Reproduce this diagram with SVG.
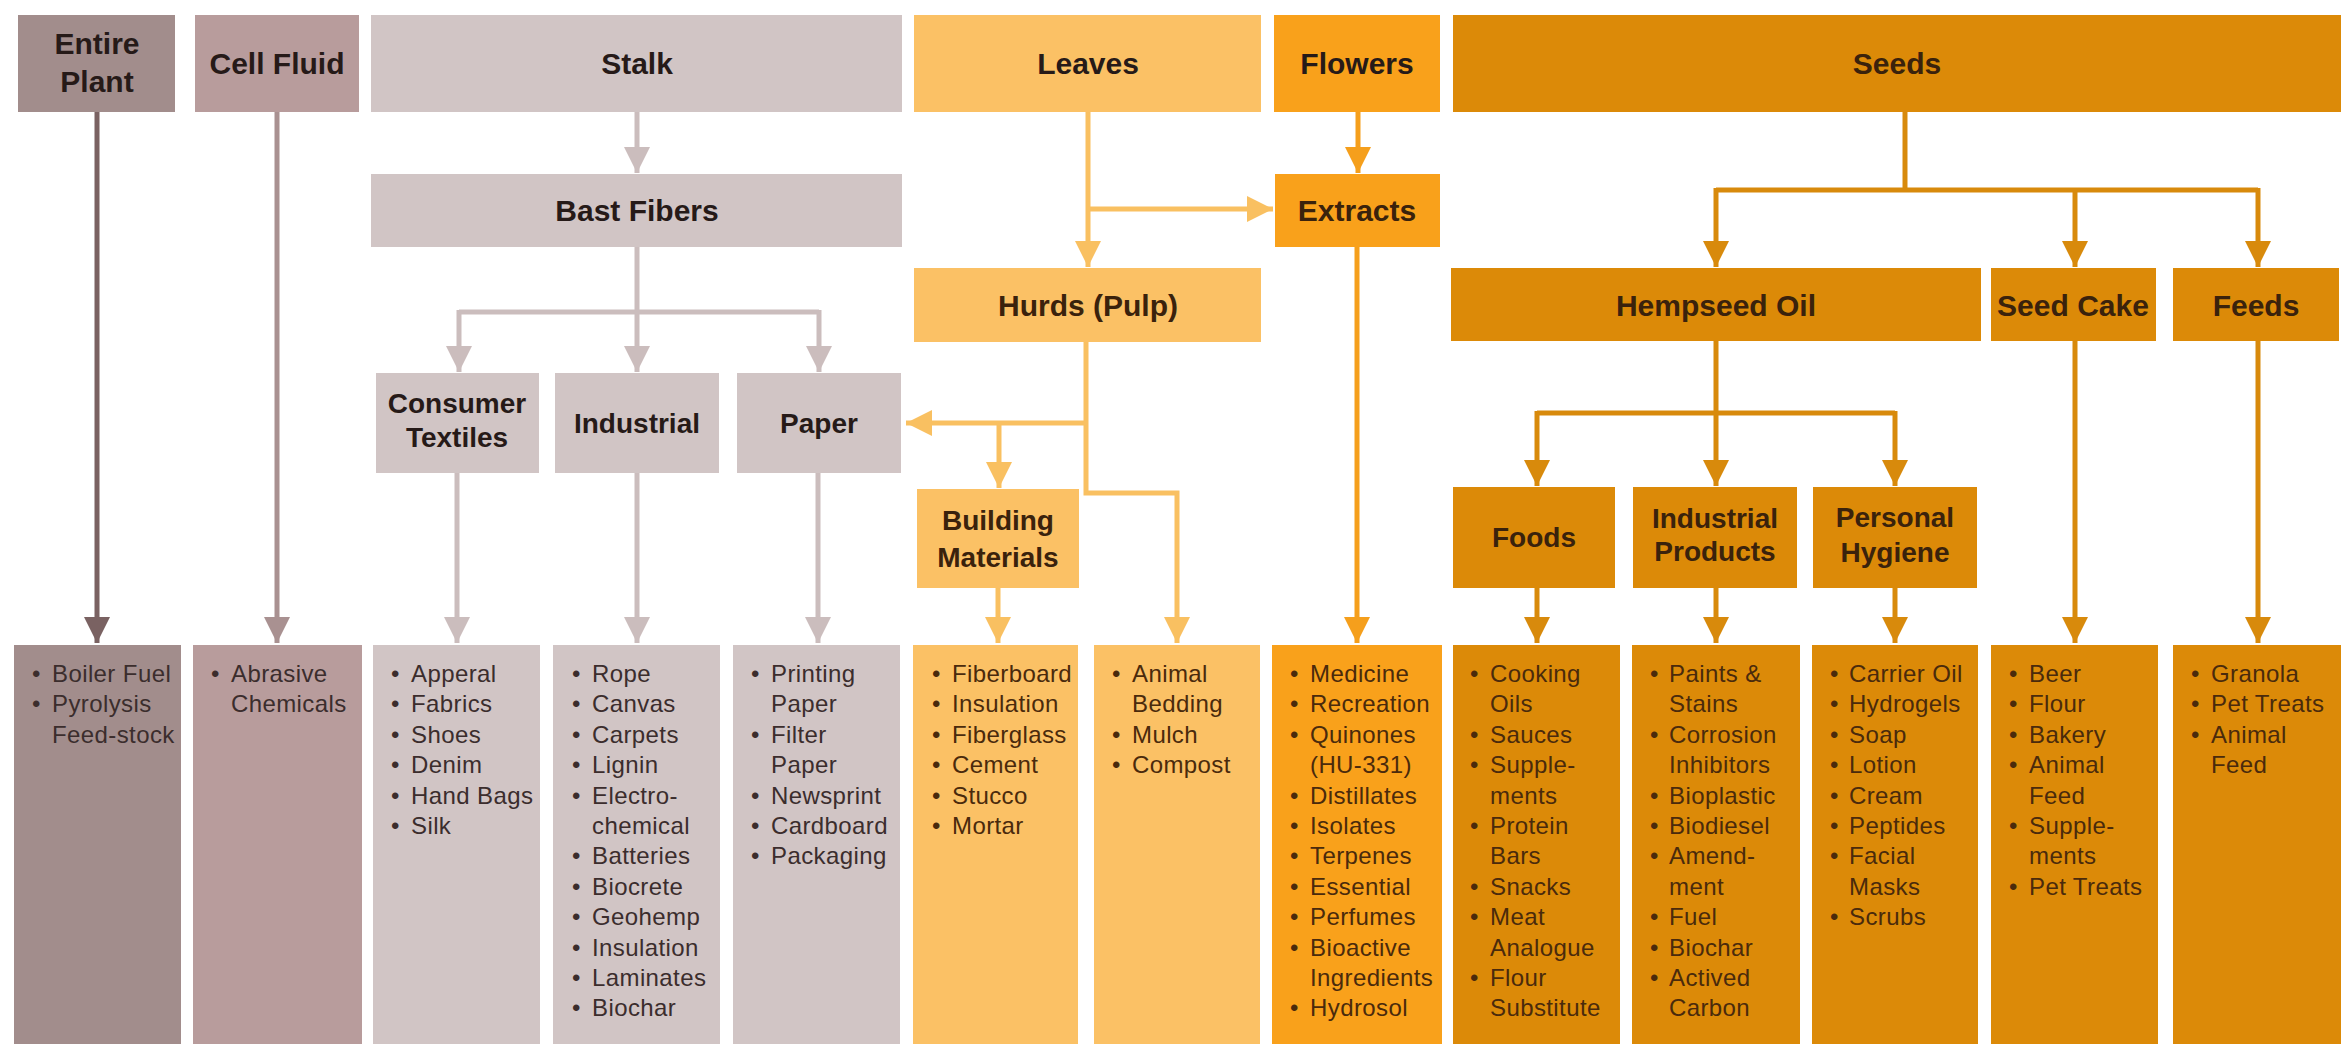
<svg xmlns="http://www.w3.org/2000/svg" width="2341" height="1044" viewBox="0 0 2341 1044">
<defs>
<style>
.h{font-family:"Liberation Sans",Arial,sans-serif;font-weight:bold;font-size:30px;text-anchor:middle;fill:#261a18}
.h2{font-family:"Liberation Sans",Arial,sans-serif;font-weight:bold;font-size:28px;text-anchor:middle;fill:#261a18}
.ho{fill:#3a220c}
.t{font-family:"Liberation Sans",Arial,sans-serif;font-size:24px;letter-spacing:0.4px;fill:#3b2d2d}
.to{fill:#4a2a0c}
.ep{fill:#a28d8c}.cf{fill:#b89c9c}.st{fill:#d1c5c5}.lv{fill:#fbc165}.fl{fill:#f9a11b}.sd{fill:#dc8a08}
.c{fill:none;stroke-width:5}
.cep{stroke:#7a6262}.ccf{stroke:#a99191}.cst{stroke:#cbbdbd}.clv{stroke:#f9c061}.cfl{stroke:#f59f1c}.csd{stroke:#d88a0c}
</style>
<marker id="aep" markerUnits="userSpaceOnUse" markerWidth="28" markerHeight="28" refX="26" refY="13" orient="auto"><path d="M0,0 L26,13 L0,26 Z" fill="#7a6262"/></marker>
<marker id="acf" markerUnits="userSpaceOnUse" markerWidth="28" markerHeight="28" refX="26" refY="13" orient="auto"><path d="M0,0 L26,13 L0,26 Z" fill="#a99191"/></marker>
<marker id="ast" markerUnits="userSpaceOnUse" markerWidth="28" markerHeight="28" refX="26" refY="13" orient="auto"><path d="M0,0 L26,13 L0,26 Z" fill="#cbbdbd"/></marker>
<marker id="alv" markerUnits="userSpaceOnUse" markerWidth="28" markerHeight="28" refX="26" refY="13" orient="auto"><path d="M0,0 L26,13 L0,26 Z" fill="#f9c061"/></marker>
<marker id="afl" markerUnits="userSpaceOnUse" markerWidth="28" markerHeight="28" refX="26" refY="13" orient="auto"><path d="M0,0 L26,13 L0,26 Z" fill="#f59f1c"/></marker>
<marker id="asd" markerUnits="userSpaceOnUse" markerWidth="28" markerHeight="28" refX="26" refY="13" orient="auto"><path d="M0,0 L26,13 L0,26 Z" fill="#d88a0c"/></marker>
</defs>
<rect width="2341" height="1044" fill="#ffffff"/>

<g id="connectors">
<path class="c cep" d="M97,112 V643" marker-end="url(#aep)"/>
<path class="c ccf" d="M277,112 V643" marker-end="url(#acf)"/>
<path class="c cst" d="M637,112 V173" marker-end="url(#ast)"/>
<path class="c cst" d="M637,247 V372" marker-end="url(#ast)"/>
<path class="c cst" d="M459,312 H819"/>
<path class="c cst" d="M459,310 V372" marker-end="url(#ast)"/>
<path class="c cst" d="M819,310 V372" marker-end="url(#ast)"/>
<path class="c cst" d="M457,473 V643" marker-end="url(#ast)"/>
<path class="c cst" d="M637,473 V643" marker-end="url(#ast)"/>
<path class="c cst" d="M818,473 V643" marker-end="url(#ast)"/>
<path class="c clv" d="M1088,112 V267" marker-end="url(#alv)"/>
<path class="c clv" d="M1088,209 H1273" marker-end="url(#alv)"/>
<path class="c clv" d="M1086,342 V493 H1177 V643" marker-end="url(#alv)"/>
<path class="c clv" d="M1086,423 H906" marker-end="url(#alv)"/>
<path class="c clv" d="M999,423 V488" marker-end="url(#alv)"/>
<path class="c clv" d="M998,588 V643" marker-end="url(#alv)"/>
<path class="c cfl" d="M1358,112 V173" marker-end="url(#afl)"/>
<path class="c cfl" d="M1357,247 V643" marker-end="url(#afl)"/>
<path class="c csd" d="M1905,112 V190"/>
<path class="c csd" d="M1716,190 H2258"/>
<path class="c csd" d="M1716,188 V267" marker-end="url(#asd)"/>
<path class="c csd" d="M2075,188 V267" marker-end="url(#asd)"/>
<path class="c csd" d="M2258,188 V267" marker-end="url(#asd)"/>
<path class="c csd" d="M1716,341 V486" marker-end="url(#asd)"/>
<path class="c csd" d="M1537,413 H1895"/>
<path class="c csd" d="M1537,411 V486" marker-end="url(#asd)"/>
<path class="c csd" d="M1895,411 V486" marker-end="url(#asd)"/>
<path class="c csd" d="M1537,588 V643" marker-end="url(#asd)"/>
<path class="c csd" d="M1716,588 V643" marker-end="url(#asd)"/>
<path class="c csd" d="M1895,588 V643" marker-end="url(#asd)"/>
<path class="c csd" d="M2075,341 V643" marker-end="url(#asd)"/>
<path class="c csd" d="M2258,341 V643" marker-end="url(#asd)"/>
</g>

<g id="entire-plant"><rect class="ep" x="18" y="15" width="157" height="97"/><text class="h" x="97" y="54">Entire</text><text class="h" x="97" y="92">Plant</text></g>
<g id="cell-fluid"><rect class="cf" x="195" y="15" width="164" height="97"/><text class="h" x="277" y="74">Cell Fluid</text></g>
<g id="stalk"><rect class="st" x="371" y="15" width="531" height="97"/><text class="h" x="637" y="74" font-weight="normal">Stalk</text></g>
<g id="leaves"><rect class="lv" x="914" y="15" width="347" height="97"/><text class="h" x="1088" y="74" font-weight="normal">Leaves</text></g>
<g id="flowers"><rect class="fl" x="1274" y="15" width="166" height="97"/><text class="h" x="1357" y="74">Flowers</text></g>
<g id="seeds"><rect class="sd" x="1453" y="15" width="888" height="97"/><text class="h ho" x="1897" y="74">Seeds</text></g>

<g id="bast-fibers"><rect class="st" x="371" y="174" width="531" height="73"/><text class="h" x="637" y="221">Bast Fibers</text></g>
<g id="extracts"><rect class="fl" x="1275" y="174" width="165" height="73"/><text class="h ho" x="1357" y="221">Extracts</text></g>
<g id="hurds"><rect class="lv" x="914" y="268" width="347" height="74"/><text class="h ho" x="1088" y="316">Hurds (Pulp)</text></g>
<g id="hempseed-oil"><rect class="sd" x="1451" y="268" width="530" height="73"/><text class="h ho" x="1716" y="316">Hempseed Oil</text></g>
<g id="seed-cake"><rect class="sd" x="1991" y="268" width="165" height="73"/><text class="h ho" x="2073" y="316">Seed Cake</text></g>
<g id="feeds"><rect class="sd" x="2173" y="268" width="166" height="73"/><text class="h ho" x="2256" y="316">Feeds</text></g>

<g id="consumer-textiles"><rect class="st" x="376" y="373" width="163" height="100"/><text class="h2" x="457" y="413">Consumer</text><text class="h2" x="457" y="447">Textiles</text></g>
<g id="industrial"><rect class="st" x="555" y="373" width="164" height="100"/><text class="h2" x="637" y="433">Industrial</text></g>
<g id="paper"><rect class="st" x="737" y="373" width="164" height="100"/><text class="h2" x="819" y="433">Paper</text></g>
<g id="building-materials"><rect class="lv" x="917" y="489" width="162" height="99"/><text class="h2 ho" x="998" y="530">Building</text><text class="h2 ho" x="998" y="567">Materials</text></g>
<g id="foods"><rect class="sd" x="1453" y="487" width="162" height="101"/><text class="h2 ho" x="1534" y="547">Foods</text></g>
<g id="industrial-products"><rect class="sd" x="1633" y="487" width="164" height="101"/><text class="h2 ho" x="1715" y="528">Industrial</text><text class="h2 ho" x="1715" y="561">Products</text></g>
<g id="personal-hygiene"><rect class="sd" x="1813" y="487" width="164" height="101"/><text class="h2 ho" x="1895" y="527">Personal</text><text class="h2 ho" x="1895" y="562">Hygiene</text></g>

<g id="list-entire-plant"><rect class="ep" x="14" y="645" width="167" height="399"/>
<text class="t"><tspan x="32" y="682">•</tspan><tspan x="52" y="682">Boiler Fuel</tspan><tspan x="32" y="712">•</tspan><tspan x="52" y="712">Pyrolysis</tspan><tspan x="52" y="743">Feed-stock</tspan></text></g>
<g id="list-cell-fluid"><rect class="cf" x="193" y="645" width="169" height="399"/>
<text class="t"><tspan x="211" y="682">•</tspan><tspan x="231" y="682">Abrasive</tspan><tspan x="231" y="712">Chemicals</tspan></text></g>
<g id="list-textiles"><rect class="st" x="373" y="645" width="167" height="399"/>
<text class="t"><tspan x="391" y="682">•</tspan><tspan x="411" y="682">Apperal</tspan><tspan x="391" y="712">•</tspan><tspan x="411" y="712">Fabrics</tspan><tspan x="391" y="743">•</tspan><tspan x="411" y="743">Shoes</tspan><tspan x="391" y="773">•</tspan><tspan x="411" y="773">Denim</tspan><tspan x="391" y="804">•</tspan><tspan x="411" y="804">Hand Bags</tspan><tspan x="391" y="834">•</tspan><tspan x="411" y="834">Silk</tspan></text></g>
<g id="list-industrial"><rect class="st" x="553" y="645" width="167" height="399"/>
<text class="t"><tspan x="572" y="682">•</tspan><tspan x="592" y="682">Rope</tspan><tspan x="572" y="712">•</tspan><tspan x="592" y="712">Canvas</tspan><tspan x="572" y="743">•</tspan><tspan x="592" y="743">Carpets</tspan><tspan x="572" y="773">•</tspan><tspan x="592" y="773">Lignin</tspan><tspan x="572" y="804">•</tspan><tspan x="592" y="804">Electro-</tspan><tspan x="592" y="834">chemical</tspan><tspan x="572" y="864">•</tspan><tspan x="592" y="864">Batteries</tspan><tspan x="572" y="895">•</tspan><tspan x="592" y="895">Biocrete</tspan><tspan x="572" y="925">•</tspan><tspan x="592" y="925">Geohemp</tspan><tspan x="572" y="956">•</tspan><tspan x="592" y="956">Insulation</tspan><tspan x="572" y="986">•</tspan><tspan x="592" y="986">Laminates</tspan><tspan x="572" y="1016">•</tspan><tspan x="592" y="1016">Biochar</tspan></text></g>
<g id="list-paper"><rect class="st" x="733" y="645" width="167" height="399"/>
<text class="t"><tspan x="751" y="682">•</tspan><tspan x="771" y="682">Printing</tspan><tspan x="771" y="712">Paper</tspan><tspan x="751" y="743">•</tspan><tspan x="771" y="743">Filter</tspan><tspan x="771" y="773">Paper</tspan><tspan x="751" y="804">•</tspan><tspan x="771" y="804">Newsprint</tspan><tspan x="751" y="834">•</tspan><tspan x="771" y="834">Cardboard</tspan><tspan x="751" y="864">•</tspan><tspan x="771" y="864">Packaging</tspan></text></g>
<g id="list-building"><rect class="lv" x="913" y="645" width="165" height="399"/>
<text class="t to"><tspan x="932" y="682">•</tspan><tspan x="952" y="682">Fiberboard</tspan><tspan x="932" y="712">•</tspan><tspan x="952" y="712">Insulation</tspan><tspan x="932" y="743">•</tspan><tspan x="952" y="743">Fiberglass</tspan><tspan x="932" y="773">•</tspan><tspan x="952" y="773">Cement</tspan><tspan x="932" y="804">•</tspan><tspan x="952" y="804">Stucco</tspan><tspan x="932" y="834">•</tspan><tspan x="952" y="834">Mortar</tspan></text></g>
<g id="list-hurds"><rect class="lv" x="1094" y="645" width="166" height="399"/>
<text class="t to"><tspan x="1112" y="682">•</tspan><tspan x="1132" y="682">Animal</tspan><tspan x="1132" y="712">Bedding</tspan><tspan x="1112" y="743">•</tspan><tspan x="1132" y="743">Mulch</tspan><tspan x="1112" y="773">•</tspan><tspan x="1132" y="773">Compost</tspan></text></g>
<g id="list-extracts"><rect class="fl" x="1272" y="645" width="170" height="399"/>
<text class="t to"><tspan x="1290" y="682">•</tspan><tspan x="1310" y="682">Medicine</tspan><tspan x="1290" y="712">•</tspan><tspan x="1310" y="712">Recreation</tspan><tspan x="1290" y="743">•</tspan><tspan x="1310" y="743">Quinones</tspan><tspan x="1310" y="773">(HU-331)</tspan><tspan x="1290" y="804">•</tspan><tspan x="1310" y="804">Distillates</tspan><tspan x="1290" y="834">•</tspan><tspan x="1310" y="834">Isolates</tspan><tspan x="1290" y="864">•</tspan><tspan x="1310" y="864">Terpenes</tspan><tspan x="1290" y="895">•</tspan><tspan x="1310" y="895">Essential</tspan><tspan x="1290" y="925">•</tspan><tspan x="1310" y="925">Perfumes</tspan><tspan x="1290" y="956">•</tspan><tspan x="1310" y="956">Bioactive</tspan><tspan x="1310" y="986">Ingredients</tspan><tspan x="1290" y="1016">•</tspan><tspan x="1310" y="1016">Hydrosol</tspan></text></g>
<g id="list-foods"><rect class="sd" x="1453" y="645" width="167" height="399"/>
<text class="t to"><tspan x="1470" y="682">•</tspan><tspan x="1490" y="682">Cooking</tspan><tspan x="1490" y="712">Oils</tspan><tspan x="1470" y="743">•</tspan><tspan x="1490" y="743">Sauces</tspan><tspan x="1470" y="773">•</tspan><tspan x="1490" y="773">Supple-</tspan><tspan x="1490" y="804">ments</tspan><tspan x="1470" y="834">•</tspan><tspan x="1490" y="834">Protein</tspan><tspan x="1490" y="864">Bars</tspan><tspan x="1470" y="895">•</tspan><tspan x="1490" y="895">Snacks</tspan><tspan x="1470" y="925">•</tspan><tspan x="1490" y="925">Meat</tspan><tspan x="1490" y="956">Analogue</tspan><tspan x="1470" y="986">•</tspan><tspan x="1490" y="986">Flour</tspan><tspan x="1490" y="1016">Substitute</tspan></text></g>
<g id="list-industrial-products"><rect class="sd" x="1632" y="645" width="168" height="399"/>
<text class="t to"><tspan x="1650" y="682">•</tspan><tspan x="1669" y="682">Paints &amp;</tspan><tspan x="1669" y="712">Stains</tspan><tspan x="1650" y="743">•</tspan><tspan x="1669" y="743">Corrosion</tspan><tspan x="1669" y="773">Inhibitors</tspan><tspan x="1650" y="804">•</tspan><tspan x="1669" y="804">Bioplastic</tspan><tspan x="1650" y="834">•</tspan><tspan x="1669" y="834">Biodiesel</tspan><tspan x="1650" y="864">•</tspan><tspan x="1669" y="864">Amend-</tspan><tspan x="1669" y="895">ment</tspan><tspan x="1650" y="925">•</tspan><tspan x="1669" y="925">Fuel</tspan><tspan x="1650" y="956">•</tspan><tspan x="1669" y="956">Biochar</tspan><tspan x="1650" y="986">•</tspan><tspan x="1669" y="986">Actived</tspan><tspan x="1669" y="1016">Carbon</tspan></text></g>
<g id="list-personal-hygiene"><rect class="sd" x="1812" y="645" width="166" height="399"/>
<text class="t to"><tspan x="1830" y="682">•</tspan><tspan x="1849" y="682">Carrier Oil</tspan><tspan x="1830" y="712">•</tspan><tspan x="1849" y="712">Hydrogels</tspan><tspan x="1830" y="743">•</tspan><tspan x="1849" y="743">Soap</tspan><tspan x="1830" y="773">•</tspan><tspan x="1849" y="773">Lotion</tspan><tspan x="1830" y="804">•</tspan><tspan x="1849" y="804">Cream</tspan><tspan x="1830" y="834">•</tspan><tspan x="1849" y="834">Peptides</tspan><tspan x="1830" y="864">•</tspan><tspan x="1849" y="864">Facial</tspan><tspan x="1849" y="895">Masks</tspan><tspan x="1830" y="925">•</tspan><tspan x="1849" y="925">Scrubs</tspan></text></g>
<g id="list-seed-cake"><rect class="sd" x="1991" y="645" width="167" height="399"/>
<text class="t to"><tspan x="2009" y="682">•</tspan><tspan x="2029" y="682">Beer</tspan><tspan x="2009" y="712">•</tspan><tspan x="2029" y="712">Flour</tspan><tspan x="2009" y="743">•</tspan><tspan x="2029" y="743">Bakery</tspan><tspan x="2009" y="773">•</tspan><tspan x="2029" y="773">Animal</tspan><tspan x="2029" y="804">Feed</tspan><tspan x="2009" y="834">•</tspan><tspan x="2029" y="834">Supple-</tspan><tspan x="2029" y="864">ments</tspan><tspan x="2009" y="895">•</tspan><tspan x="2029" y="895">Pet Treats</tspan></text></g>
<g id="list-feeds"><rect class="sd" x="2173" y="645" width="168" height="399"/>
<text class="t to"><tspan x="2191" y="682">•</tspan><tspan x="2211" y="682">Granola</tspan><tspan x="2191" y="712">•</tspan><tspan x="2211" y="712">Pet Treats</tspan><tspan x="2191" y="743">•</tspan><tspan x="2211" y="743">Animal</tspan><tspan x="2211" y="773">Feed</tspan></text></g>
</svg>
